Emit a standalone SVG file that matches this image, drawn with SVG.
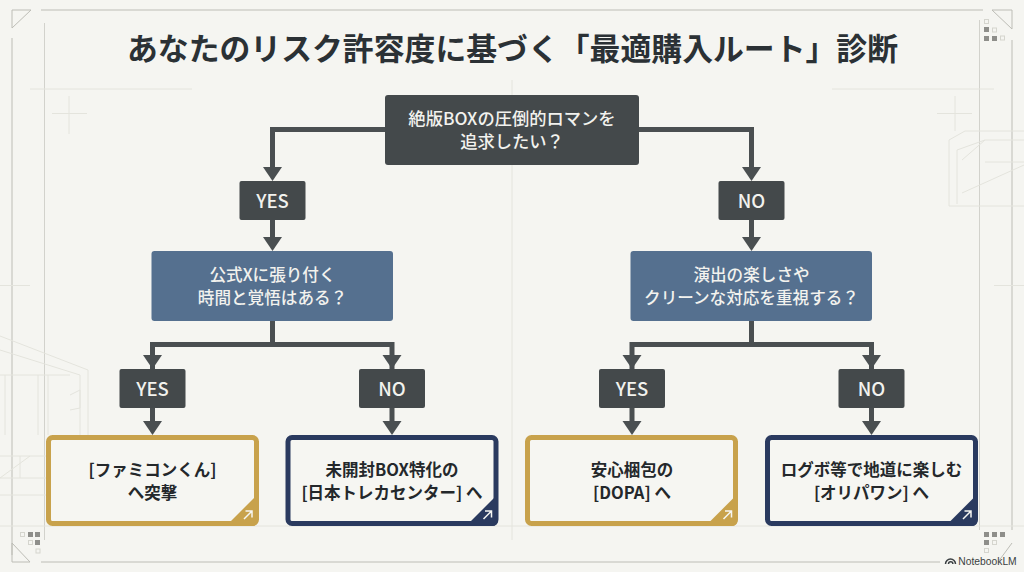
<svg xmlns="http://www.w3.org/2000/svg" width="1024" height="572" viewBox="0 0 1024 572">
<style>
text{font-family:"Noto Sans CJK JP","Noto Sans",sans-serif;text-anchor:middle}
.t{font-size:30.850px;font-weight:700;fill:#2b3135}
.w{font-size:17.300px;font-weight:500;fill:#f2f2ee}
.b{font-size:16.600px;font-weight:500;fill:#f2f2ee}
.l{font-size:18.500px;font-weight:500;fill:#f2f2ee}
.d{font-size:16.500px;font-weight:700;fill:#24282b}
.dark{fill:#44494b}
.blue{fill:#55708f}
.gold{fill:#f6f6f2;stroke:#c8a24c;stroke-width:5}
.navy{fill:#f6f6f2;stroke:#2a3a5f;stroke-width:5}
.fg{fill:#c8a24c}.fn{fill:#2a3a5f}
.c{fill:none;stroke:#4a4f51;stroke-width:5}
.a{fill:#4a4f51}
.g1{fill:none;stroke:#d2d2cc;stroke-width:1}
.g2{fill:none;stroke:#e4e4dd;stroke-width:1}
.g3{fill:none;stroke:#bdbdb6;stroke-width:1}
.ar{fill:none;stroke:#f6f6f2;stroke-width:1.500}
.sq{fill:#8e8e8a}
.so{fill:none;stroke:#d5d5ce;stroke-width:1}
</style>
<defs>
<path id="ah" class="a" d="M-9.500 0H9.500L0 14Z"/>
<g id="arw"><path class="ar" d="M-4 4L4 -4M-2.500 -4H4V2.500"/></g>
</defs>
<rect width="1024" height="572" fill="#f5f5f1"/>
<g id="background">
<path class="g3" d="M41 10H983M41 562H940M12 38V555M1012 40V530"/>
<path class="g1" d="M44.500 23V540M979.500 20V530"/>
<path class="g2" d="M30 89H192M832 89H994M512 80V540M0 285.500H30M994 285.500H1024M0 526H1024"/>
<path class="g2" d="M52 113.500H87M69 96V134M937 113.500H972M955 96V131"/>
<path class="g3" d="M12 10H31L12 28ZM992 10H1012V29ZM12 543L30 562H12ZM998 562L1012 543"/>
<path class="g2" d="M949 206V140L965 131H1024M957 204V150L985 140H1024M949 206H1024M985 162H1024M962 193L1024 165M985 140L962 160M0 336L88 370V435M0 350L80 375V435M0 375H70M5 375V435M38 375V435M48 375V435M70 395L80 390V408L70 410M0 456H46M0 478H46M0 495H46M20 456V478M30 456L0 478"/>
<g class="sq"><rect x="984" y="27" width="5" height="5"/><rect x="984" y="36" width="5" height="5"/><rect x="992" y="36" width="5" height="5"/><rect x="28" y="532" width="5" height="5"/><rect x="35" y="532" width="5" height="5"/><rect x="35" y="540" width="5" height="5"/><rect x="984" y="532" width="5" height="5"/><rect x="992" y="532" width="5" height="5"/><rect x="1000" y="532" width="5" height="5"/><rect x="984" y="540" width="5" height="5"/></g>
<g class="so"><rect x="984.500" y="19.500" width="4" height="4"/><rect x="992.500" y="28" width="4" height="4"/><rect x="1000.500" y="36" width="4" height="4"/><rect x="20.500" y="532.500" width="4" height="4"/><rect x="28.500" y="540.500" width="4" height="4"/><rect x="36" y="549" width="4" height="4"/><rect x="992.500" y="540.500" width="4" height="4"/><rect x="984.500" y="548.500" width="4" height="4"/></g>
</g>
<text class="t" x="512.500" y="60" id="title">あなたのリスク許容度に基づく「最適購入ルート」診断</text>
<g id="connectors">
<path class="c" d="M385 129.500H272.500V170M639 129.500H751.500V170M272.500 220V240M751.500 220V240M272.500 321V344.500M751.500 321V344.500M152.500 369V344.500H392V369M632 369V344.500H871.500V369M152.500 408V424M392 408V424M632 408V424M871.500 408V424"/>
<use href="#ah" x="272.500" y="167"/><use href="#ah" x="751.500" y="167"/>
<use href="#ah" x="272.500" y="237"/><use href="#ah" x="751.500" y="237"/>
<use href="#ah" x="152.500" y="355"/><use href="#ah" x="392" y="355"/><use href="#ah" x="632" y="355"/><use href="#ah" x="871.500" y="355"/>
<use href="#ah" x="152.500" y="421"/><use href="#ah" x="392" y="421"/><use href="#ah" x="632" y="421"/><use href="#ah" x="871.500" y="421"/>
</g>
<g id="n-root"><rect class="dark" x="385" y="95" width="254" height="70" rx="3"/><text class="w" x="512" y="124.500">絶版BOXの圧倒的ロマンを</text><text class="w" x="512" y="148">追求したい？</text></g>
<g id="n-yes1"><rect class="dark" x="239.500" y="181" width="66" height="39" rx="2"/><text class="l" x="272.500" y="207.500">YES</text></g>
<g id="n-no1"><rect class="dark" x="718.500" y="181" width="66" height="39" rx="2"/><text class="l" x="751.500" y="207.500">NO</text></g>
<g id="n-q2"><rect class="blue" x="151.500" y="251" width="241.500" height="70" rx="3"/><text class="b" x="272.500" y="280.500">公式Xに張り付く</text><text class="b" x="272.500" y="304">時間と覚悟はある？</text></g>
<g id="n-q3"><rect class="blue" x="630.500" y="251" width="241.500" height="70" rx="3"/><text class="b" x="751.500" y="280.500">演出の楽しさや</text><text class="b" x="751.500" y="304">クリーンな対応を重視する？</text></g>
<g id="n-yes2"><rect class="dark" x="119.500" y="369" width="66" height="39" rx="2"/><text class="l" x="152.500" y="395.500">YES</text></g>
<g id="n-no2"><rect class="dark" x="359" y="369" width="66" height="39" rx="2"/><text class="l" x="392" y="395.500">NO</text></g>
<g id="n-yes3"><rect class="dark" x="599" y="369" width="66" height="39" rx="2"/><text class="l" x="632" y="395.500">YES</text></g>
<g id="n-no3"><rect class="dark" x="838.500" y="369" width="66" height="39" rx="2"/><text class="l" x="871.500" y="395.500">NO</text></g>
<g id="n-r1"><rect class="gold" x="48.500" y="437.500" width="208" height="86" rx="4"/><path class="fg" d="M226 526L258 494V520Q258 526 252 526Z"/><use href="#arw" x="248" y="515"/><text class="d" x="152.500" y="476">[ファミコンくん]</text><text class="d" x="152.500" y="498.500">へ突撃</text></g>
<g id="n-r2"><rect class="navy" x="288" y="437.500" width="208" height="86" rx="4"/><path class="fn" d="M466 526L498 494V520Q498 526 492 526Z"/><use href="#arw" x="487.500" y="515"/><text class="d" x="392" y="476">未開封BOX特化の</text><text class="d" x="392" y="498.500">[日本トレカセンター] へ</text></g>
<g id="n-r3"><rect class="gold" x="527.500" y="437.500" width="208" height="86" rx="4"/><path class="fg" d="M705.500 526L737.500 494V520Q737.500 526 731.500 526Z"/><use href="#arw" x="727.500" y="515"/><text class="d" x="632" y="476">安心梱包の</text><text class="d" x="632" y="498.500">[DOPA] へ</text></g>
<g id="n-r4"><rect class="navy" x="767.500" y="437.500" width="208" height="86" rx="4"/><path class="fn" d="M945.500 526L977.500 494V520Q977.500 526 971.500 526Z"/><use href="#arw" x="967" y="515"/><text class="d" x="871.500" y="476">ログボ等で地道に楽しむ</text><text class="d" x="871.500" y="498.500">[オリパワン] へ</text></g>
<text x="987.500" y="565" style="font-family:'Liberation Sans',sans-serif;font-size:10.300px;font-weight:400" fill="#3a3f42">NotebookLM</text>
<path d="M945.500 564a5 5 0 0 1 10 0M948.500 564a2.200 2.200 0 0 1 4.400 0" fill="none" stroke="#3a3f42" stroke-width="1.500"/>
</svg>
